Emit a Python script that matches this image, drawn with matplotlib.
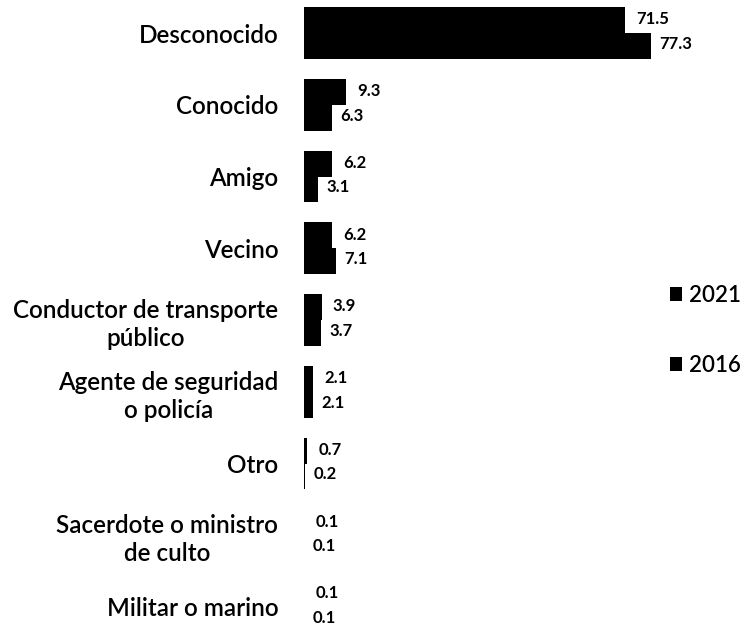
import numpy as np
import matplotlib.pyplot as plt

categorias = ["Desconocido", "Conocido", "Amigo", "Vecino",
              "Conductor de transporte\npúblico", "Agente de seguridad\no policía",
              "Otro", "Sacerdote o ministro\nde culto", "Militar o marino"]
v2021 = [71.5, 9.3, 6.2, 6.2, 3.9, 2.1, 0.7, 0.1, 0.1]
v2016 = [77.3, 6.3, 3.1, 7.1, 3.7, 2.1, 0.2, 0.1, 0.1]

plt.rcParams['font.family'] = ['Lato', 'DejaVu Sans']

fig = plt.figure(figsize=(7.44, 6.32), dpi=100)
ax = fig.add_axes([304/744, 0.0055, 359/744, 0.9945])

y = np.arange(len(categorias))
h = 0.36
b1 = ax.barh(y - h/2, v2021, height=h, color='black', label='2021')
b2 = ax.barh(y + h/2, v2016, height=h, color='black', label='2016')

for yi, v in zip(y, v2021):
    ax.annotate(f"{v}", (v, yi - h/2), xytext=(8, 0.5), textcoords='offset points',
                ha='left', va='center', fontsize=12, fontweight='bold')
for yi, v in zip(y, v2016):
    ax.annotate(f"{v}", (v, yi + h/2), xytext=(6, 1.5), textcoords='offset points',
                ha='left', va='center', fontsize=12, fontweight='bold')

ax.set_xlim(0, 80)
ax.set_ylim(8.3, -0.46)
ax.set_yticks(y)
ax.set_yticklabels(categorias, fontsize=17.5, ma='center', linespacing=1.25,
                   fontweight='semibold')
ax.tick_params(axis='y', length=0, pad=18.5)
ax.set_xticks([])
for s in ax.spines.values():
    s.set_visible(False)

fig.legend(handles=[b1, b2], loc='upper left', bbox_to_anchor=(670/744, 1 - 285/632),
           frameon=False, prop={'size': 16, 'weight': 'semibold'},
           handlelength=0.55, handleheight=0.55,
           handletextpad=0.3, labelspacing=2.2, borderpad=0, borderaxespad=0)

fig.savefig("out.png", dpi=100)
